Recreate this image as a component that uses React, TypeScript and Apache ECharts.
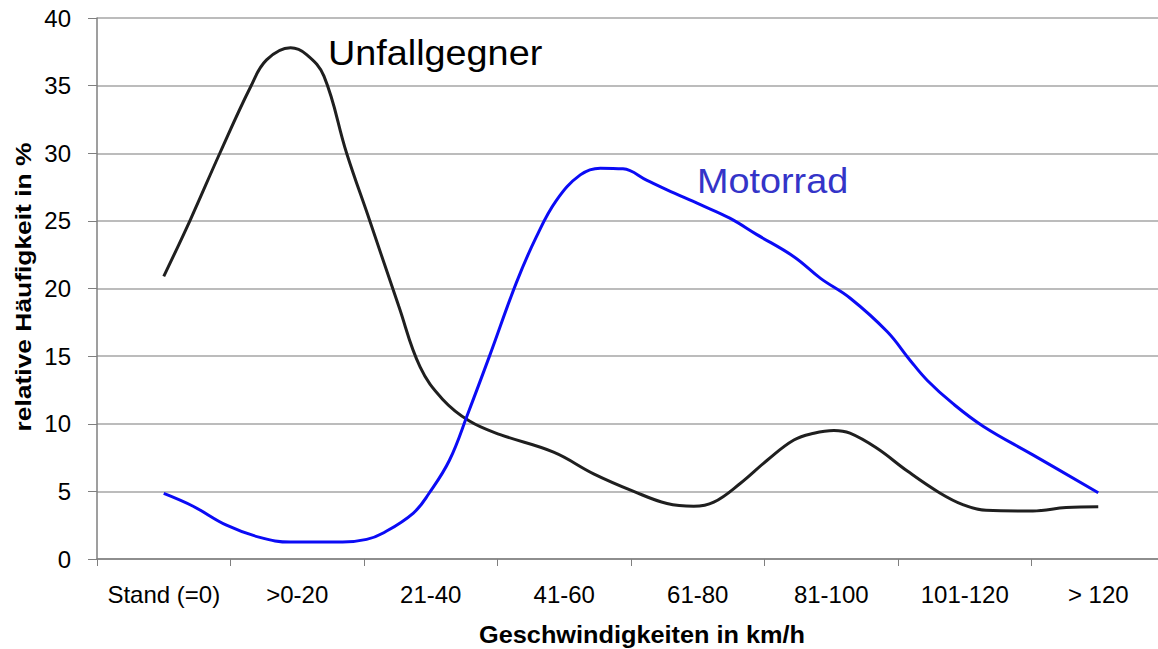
import React, { useEffect, useRef } from "react";
import * as echarts from "echarts";

// Category labels of the x axis
const categories = ["Stand (=0)", ">0-20", "21-40", "41-60", "61-80", "81-100", "101-120", "> 120"];

// Unfallgegner curve: position in category units (0 = first category) and value in %
const unfallPos = [0.0, 0.2, 0.42, 0.65, 0.77, 0.95, 1.07, 1.2, 1.37, 1.54, 1.76, 1.92, 2.09, 2.29, 2.52, 2.92, 3.22, 3.52, 3.77, 3.97, 4.12, 4.32, 4.52, 4.72, 4.87, 5.02, 5.14, 5.34, 5.57, 5.81, 5.99, 6.16, 6.51, 6.76, 7.0];
const unfallVal = [20.9, 25.1, 30.0, 34.9, 36.9, 37.8, 37.3, 35.7, 30.0, 25.1, 18.7, 14.2, 11.8, 10.2, 9.2, 7.9, 6.3, 5.0, 4.1, 3.9, 4.2, 5.6, 7.3, 8.8, 9.3, 9.5, 9.3, 8.2, 6.5, 4.9, 4.0, 3.6, 3.55, 3.8, 3.87];

// Motorrad curve
const motoPos = [0.0, 0.22, 0.47, 0.72, 0.95, 1.34, 1.52, 1.64, 1.87, 1.99, 2.14, 2.28, 2.44, 2.64, 2.79, 2.94, 3.12, 3.27, 3.44, 3.62, 3.77, 4.02, 4.24, 4.44, 4.72, 4.92, 5.14, 5.42, 5.59, 5.72, 5.91, 6.14, 6.51, 7.0];
const motoVal = [4.85, 3.9, 2.5, 1.6, 1.25, 1.25, 1.45, 1.9, 3.4, 4.9, 7.3, 10.8, 15.0, 20.4, 23.8, 26.5, 28.4, 28.9, 28.85, 28.0, 27.3, 26.2, 25.2, 24.0, 22.35, 20.75, 19.3, 16.8, 14.7, 13.2, 11.5, 9.8, 7.7, 4.9];

const seriesNames = ["Unfallgegner", "Motorrad"];
const xTitle = "Geschwindigkeiten in km/h";
const yTitle = "relative Häufigkeit in %";

const FONT = "'Liberation Sans', Arial, sans-serif";

export default function App() {
  const ref = useRef<HTMLDivElement>(null);

  useEffect(() => {
    if (!ref.current) return;
    const chart = echarts.init(ref.current, null, { renderer: "svg" });
    const pair = (xs: number[], ys: number[]) => xs.map((x, i) => [x, ys[i]]);

    chart.setOption({
      animation: false,
      backgroundColor: "#ffffff",
      grid: {
        left: 97,
        top: 18,
        width: 1068,
        bottom: 90,
        containLabel: false,
        outerBoundsMode: "none",
      },
      xAxis: [
        {
          type: "category",
          data: categories,
          boundaryGap: true,
          axisLine: { show: true, onZero: false, lineStyle: { color: "#7f7f7f", width: 1.5 } },
          axisTick: { show: true, length: 7, inside: false, lineStyle: { color: "#7f7f7f", width: 1 } },
          axisLabel: { fontSize: 24, color: "#000", fontFamily: FONT, margin: 23, interval: 0 },
          splitLine: { show: false },
        },
        {
          type: "value",
          min: -0.5,
          max: 7.5,
          show: false,
        },
      ],
      yAxis: {
        type: "value",
        min: 0,
        max: 40,
        interval: 5,
        axisLine: { show: true, onZero: false, lineStyle: { color: "#7f7f7f", width: 1.5 } },
        axisTick: { show: true, length: 9, inside: false, lineStyle: { color: "#7f7f7f", width: 1 } },
        axisLabel: { fontSize: 24, color: "#000", fontFamily: FONT, margin: 26 },
        splitLine: { show: true, lineStyle: { color: "#a6a6a6", width: 1.5 } },
      },
      series: [
        {
          name: seriesNames[0],
          type: "line",
          xAxisIndex: 1,
          data: pair(unfallPos, unfallVal),
          smooth: 0.4,
          smoothConstraint: false,
          symbol: "none",
          lineStyle: { color: "#1f1f1f", width: 3 },
          z: 3,
        },
        {
          name: seriesNames[1],
          type: "line",
          xAxisIndex: 1,
          data: pair(motoPos, motoVal),
          smooth: 0.4,
          smoothConstraint: false,
          symbol: "none",
          lineStyle: { color: "#0b0bf5", width: 3 },
          z: 4,
        },
      ],
      graphic: [
        {
          type: "text",
          x: 328,
          y: 53,
          scaleX: 1.08,
          style: {
            text: seriesNames[0],
            fontSize: 35,
            fontFamily: FONT,
            fill: "#000",
            align: "left",
            verticalAlign: "middle",
          },
        },
        {
          type: "text",
          x: 697,
          y: 181,
          scaleX: 1.08,
          style: {
            text: seriesNames[1],
            fontSize: 35,
            fontFamily: FONT,
            fill: "#3434c8",
            align: "left",
            verticalAlign: "middle",
          },
        },
        {
          type: "text",
          x: 642,
          y: 635,
          scaleX: 1.1,
          style: {
            text: xTitle,
            fontSize: 23,
            fontWeight: "bold",
            fontFamily: FONT,
            fill: "#000",
            align: "center",
            verticalAlign: "middle",
          },
        },
        {
          type: "text",
          x: 23,
          y: 287,
          rotation: Math.PI / 2,
          scaleX: 1.2,
          style: {
            text: yTitle,
            fontSize: 22,
            fontWeight: "bold",
            fontFamily: FONT,
            fill: "#000",
            align: "center",
            verticalAlign: "middle",
          },
        },
      ],
    });

    return () => chart.dispose();
  }, []);

  return (
    <div
      ref={ref}
      style={{ position: "absolute", left: 0, top: 0, width: 1158, height: 649, background: "#fff" }}
    />
  );
}
